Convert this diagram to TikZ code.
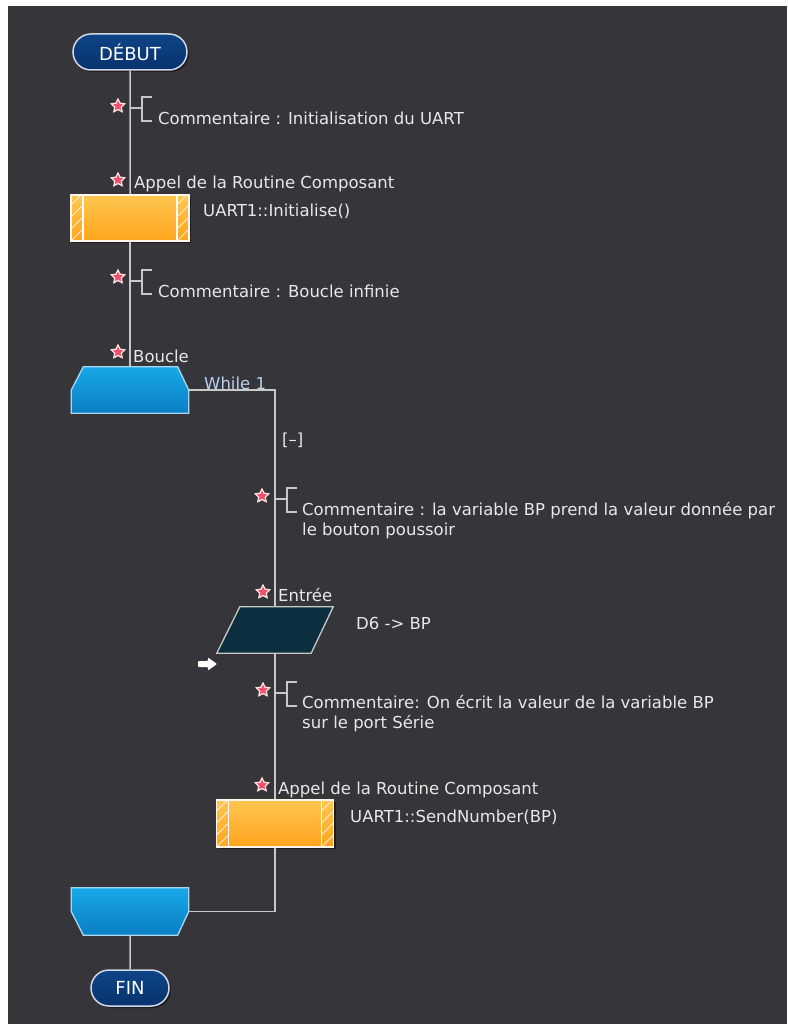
\documentclass[tikz,border=0pt]{standalone}
\usepackage{fontspec}
\setmainfont{DejaVu Sans}
\usetikzlibrary{shapes.geometric,shapes.misc,calc,shadows}
\definecolor{bg}{HTML}{36353A}
\definecolor{linegray}{HTML}{C8C8C8}
\definecolor{txt}{HTML}{E8E8E8}
\definecolor{whiletxt}{HTML}{B8D0EA}
\definecolor{orangetop}{HTML}{FFC650}
\definecolor{orangebot}{HTML}{FFA41C}
\definecolor{bluetop}{HTML}{18A8E8}
\definecolor{bluebot}{HTML}{0A7EC4}
\definecolor{blueborder}{HTML}{A8D8F0}
\definecolor{pilltop}{HTML}{0E4486}
\definecolor{pillbot}{HTML}{08326E}
\definecolor{pillborder}{HTML}{D0D8E8}
\definecolor{inpfill}{HTML}{0B2F3F}
\definecolor{starred}{HTML}{F2506A}
\definecolor{shadowc}{HTML}{1E1D22}
\tikzset{
  lbl/.style={font=\fontsize{16.5}{21}\selectfont, text=txt, inner sep=0pt, anchor=base west},
  conn/.style={draw=linegray, line width=1.5pt},
  brk/.style={draw=linegray, line width=1.3pt},
  pill/.style={rounded rectangle, draw=pillborder, line width=1.5pt,
    top color=pilltop, bottom color=pillbot, text=white, inner sep=0pt,
    font=\fontsize{18}{21}\selectfont,
    drop shadow={shadow xshift=2pt, shadow yshift=-2pt, fill=shadowc, opacity=1}},
  callbox/.style={rectangle, draw=white!92!orange, line width=1.3pt,
    top color=orangetop, bottom color=orangebot, minimum width=118pt, minimum height=46pt, inner sep=0pt,
    drop shadow={shadow xshift=2pt, shadow yshift=-2pt, fill=shadowc, opacity=1},
    path picture={
      \draw[white, line width=1.2pt]
        ([xshift=12pt]path picture bounding box.north west) -- ([xshift=12pt]path picture bounding box.south west)
        ([xshift=-12pt]path picture bounding box.north east) -- ([xshift=-12pt]path picture bounding box.south east);
      \foreach \k in {-12,0,...,48}{
        \draw[white!85!orange, line width=0.8pt]
          ([yshift=\k pt]path picture bounding box.south west) -- ([xshift=12pt,yshift={(\k+12)*1pt}]path picture bounding box.south west)
          ([xshift=-12pt,yshift=\k pt]path picture bounding box.south east) -- ([yshift={(\k+12)*1pt}]path picture bounding box.south east);
      }
    }},
  hold/.style={rectangle, inner sep=0pt, draw=none},
  loopdraw/.style={draw=blueborder, line width=1.3pt, top color=bluetop, bottom color=bluebot},
  inpdraw/.style={draw=linegray, line width=1.3pt, fill=inpfill},
  shadowfill/.style={fill=shadowc},
  redstar/.style={star, star points=5, star point ratio=2.0, minimum size=14pt, inner sep=0pt,
    fill=starred, draw=white!88!red, line width=1.3pt}
}
\begin{document}
\begin{tikzpicture}[x=1pt,y=-1pt]
\useasboundingbox (0,0) rectangle (787,1024);
\fill[white] (0,0) rectangle (787,1024);
\fill[bg] (8,6) rectangle (787,1024);

% ---------- nodes ----------
\node[pill, minimum width=114pt, minimum height=36pt] (start) at (130,52) {DÉBUT};
\node[callbox] (call1) at (130,218) {};
\node[hold, minimum width=117pt, minimum height=46pt] (loop1) at (130,390) {};
\node[hold, minimum width=116pt, minimum height=46pt] (inp) at (275,630) {};
\node[callbox, minimum width=117pt, minimum height=47pt] (call2) at (275,823.5) {};
\node[hold, minimum width=117pt, minimum height=47pt] (loop2) at (130,911.5) {};
\node[pill, minimum width=78pt, minimum height=36pt] (fin) at (130,988) {FIN};

% loop start shape
\fill[shadowfill, xshift=2pt, yshift=-2pt]
  ([xshift=12pt]loop1.north west) -- ([xshift=-11pt]loop1.north east) -- (loop1.east)
  -- (loop1.south east) -- (loop1.south west) -- (loop1.west) -- cycle;
\draw[loopdraw]
  ([xshift=12pt]loop1.north west) -- ([xshift=-11pt]loop1.north east) -- (loop1.east)
  -- (loop1.south east) -- (loop1.south west) -- (loop1.west) -- cycle;
% loop end shape
\fill[shadowfill, xshift=2pt, yshift=-2pt]
  (loop2.north west) -- (loop2.north east) -- (loop2.east)
  -- ([xshift=-11pt]loop2.south east) -- ([xshift=12pt]loop2.south west) -- (loop2.west) -- cycle;
\draw[loopdraw]
  (loop2.north west) -- (loop2.north east) -- (loop2.east)
  -- ([xshift=-11pt]loop2.south east) -- ([xshift=12pt]loop2.south west) -- (loop2.west) -- cycle;
% input parallelogram
\fill[shadowfill, xshift=2pt, yshift=-2pt]
  ([xshift=23pt]inp.north west) -- (inp.north east) -- ([xshift=-22pt]inp.south east) -- (inp.south west) -- cycle;
\draw[inpdraw]
  ([xshift=23pt]inp.north west) -- (inp.north east) -- ([xshift=-22pt]inp.south east) -- (inp.south west) -- cycle;

% ---------- connectors ----------
\draw[conn] (start) -- (call1);
\draw[conn] (call1) -- (loop1);
\draw[conn] (loop1.east) -| (inp.north);
\draw[conn] (inp) -- (call2);
\draw[conn] (call2.south) |- (loop2.east);
\draw[conn] (loop2) -- (fin);

% ---------- comment brackets ----------
\coordinate (k1) at (130,108);
\coordinate (k2) at (130,281);
\coordinate (k3) at (275,499);
\coordinate (k4) at (275,693);
\foreach \k in {k1,k2,k3,k4}{
  \draw[brk] (\k) -- ++(12,0) ++(10,-11) -- ++(-10,0) -- ++(0,24) -- ++(10,0);
}

% ---------- stars ----------
\node[redstar] (s1) at (118,106) {};
\node[redstar] (s2) at (118,180) {};
\node[redstar] (s3) at (118,277) {};
\node[redstar] (s4) at (118,352) {};
\node[redstar] (s5) at (262,496) {};
\node[redstar] (s6) at (263,592) {};
\node[redstar] (s7) at (263,690) {};
\node[redstar] (s8) at (262,785) {};

% ---------- texts ----------
\node[lbl] (t1) at (158,125) {Commentaire : Initialisation du UART};
\node[lbl] (t2) at (134,189) {Appel de la Routine Composant};
\node[lbl] (t3) at (203,217) {UART1::Initialise()};
\node[lbl] (t4) at (158,297) {Commentaire : Boucle infinie};
\node[lbl] (t5) at (133,362) {Boucle};
\node[lbl, text=whiletxt] (t6) at (204,389) {While 1};
\node[lbl] (t7) at (282,445) {[–]};
\node[lbl] (t8a) at (302,515) {Commentaire : la variable BP prend la valeur donnée par};
\node[lbl] (t8b) at (302,535) {le bouton poussoir};
\node[lbl] (t9) at (278,601) {Entrée};
\node[lbl] (t10) at (356,629) {D6 -> BP};
\node[lbl] (t11a) at (302,708) {Commentaire: On écrit la valeur de la variable BP};
\node[lbl] (t11b) at (302,728) {sur le port Série};
\node[lbl] (t12) at (278,794) {Appel de la Routine Composant};
\node[lbl] (t13) at (350,822) {UART1::SendNumber(BP)};

% ---------- entry arrow ----------
\coordinate (arr) at (198,664);
\fill[white, rounded corners=0.8pt] (arr) ++(0,-3) -- ++(10,0) -- ++(0,-3.5) -- ++(9,6.5)
  -- ++(-9,6.5) -- ++(0,-3.5) -- ++(-10,0) -- cycle;
\end{tikzpicture}
\end{document}
